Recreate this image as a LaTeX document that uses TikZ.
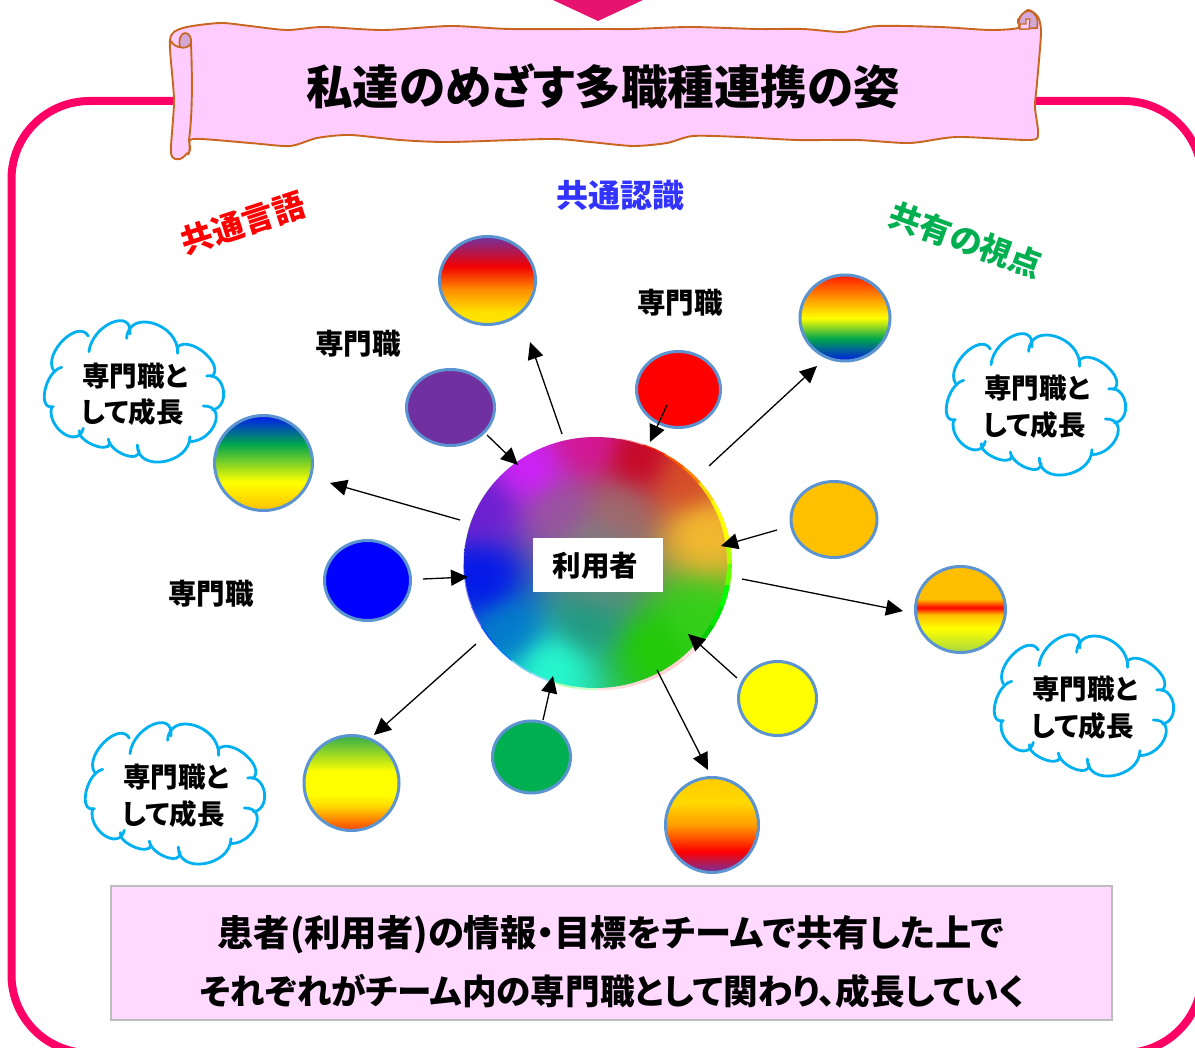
\documentclass[tikz,border=0pt]{standalone}
\usepackage{fontspec}
\setmainfont{Noto Sans CJK JP}[BoldFont={Noto Sans CJK JP Black},RawFeature={+palt}]
\usetikzlibrary{shapes.geometric,arrows.meta}
\definecolor{framepink}{HTML}{FF0066}
\definecolor{tippink}{HTML}{E6146E}
\definecolor{scrollfill}{HTML}{FFCCFF}
\definecolor{scrollline}{HTML}{C8651E}
\definecolor{rollin}{HTML}{D2A8D8}
\definecolor{boxfill}{HTML}{FFD9FF}
\definecolor{boxline}{HTML}{BDBDBD}
\definecolor{cloudblue}{HTML}{00B0F0}
\definecolor{ringblue}{HTML}{5B94D0}
\definecolor{cpurple}{HTML}{7030A0}
\definecolor{corange}{HTML}{FFC000}
\definecolor{cgreen}{HTML}{00B050}
\definecolor{cyellow}{HTML}{FFFF00}
\definecolor{labelblue}{HTML}{3333FF}
% stops are given from 25bp (bottom of shape) to 75bp (top of shape)
\pgfdeclareverticalshading{gradpurple}{100bp}{rgb(0bp)=(1,.9,0);rgb(25bp)=(1,.9,0);rgb(32bp)=(1,.88,0);rgb(45bp)=(1,.55,0);rgb(58bp)=(.95,0,0);rgb(75bp)=(.44,.19,.63);rgb(100bp)=(.44,.19,.63)}
\pgfdeclareverticalshading{gradrainbow}{100bp}{rgb(0bp)=(0,.1,.9);rgb(25bp)=(0,.1,.9);rgb(38bp)=(0,.65,.3);rgb(50bp)=(1,1,0);rgb(75bp)=(1,.1,0);rgb(100bp)=(1,.1,0)}
\pgfdeclareverticalshading{gradband}{100bp}{rgb(0bp)=(.65,.84,.25);rgb(25bp)=(.65,.84,.25);rgb(39bp)=(1,1,0);rgb(47bp)=(1,.75,0);rgb(51bp)=(1,0,0);rgb(56bp)=(1,.75,0);rgb(75bp)=(1,.75,0);rgb(100bp)=(1,.75,0)}
\pgfdeclareverticalshading{gradsunset}{100bp}{rgb(0bp)=(.44,.19,.63);rgb(25bp)=(.44,.19,.63);rgb(36bp)=(1,0,0);rgb(50bp)=(1,.62,0);rgb(62bp)=(1,.85,0);rgb(75bp)=(1,.8,0);rgb(100bp)=(1,.8,0)}
\pgfdeclareverticalshading{gradgreenred}{100bp}{rgb(0bp)=(1,.25,0);rgb(25bp)=(1,.25,0);rgb(38bp)=(1,.85,0);rgb(44bp)=(1,1,0);rgb(56bp)=(1,1,0);rgb(75bp)=(.2,.68,.3);rgb(100bp)=(.2,.68,.3)}
\pgfdeclareverticalshading{gradblue}{100bp}{rgb(0bp)=(1,.75,0);rgb(25bp)=(1,.75,0);rgb(40bp)=(1,1,0);rgb(60bp)=(0,.65,.3);rgb(75bp)=(0,.1,.95);rgb(100bp)=(0,.1,.95)}
% hub colour field: inverse-distance blend of colour points
\def\blob#1#2#3#4#5{5 index #1 sub dup mul 5 index #2 sub dup mul add 30 add 1 exch div dup mul dup #5 mul 3 -1 roll add exch dup #4 mul 4 -1 roll add 3 1 roll dup #3 mul 5 -1 roll add 4 1 roll 5 -1 roll add 4 1 roll }
\pgfdeclarefunctionalshading{hubfield}{\pgfpoint{0bp}{0bp}}{\pgfpoint{100bp}{100bp}}{}{
0 0 0 0
\blob{37.5}{68.5}{.82}{.12}{1}
\blob{57.9}{70.5}{.78}{0}{.12}
\blob{70.4}{56}{.97}{.74}{.18}
\blob{61}{33.5}{.12}{.8}{0}
\blob{69}{38.8}{.2}{.82}{.1}
\blob{41.7}{29.5}{.15}{1}{.82}
\blob{28.7}{46.7}{0}{.08}{.92}
\blob{50}{53.7}{.5}{.5}{.5}
\blob{28.7}{61}{.42}{.12}{.82}
\blob{54}{60.5}{.62}{.42}{.42}
\blob{43}{60.5}{.6}{.33}{.62}
\blob{33.7}{36.9}{0}{.48}{.8}
\blob{48.6}{73.4}{.84}{.08}{.6}
\blob{67.2}{66.5}{.84}{.3}{.15}
\blob{50.5}{44.8}{.38}{.55}{.5}
\blob{48.6}{38.8}{.1}{.6}{.5}
3 index div 3 1 roll 3 index div 3 1 roll 3 index div 3 1 roll 6 3 roll pop pop pop
}
\newcommand{\lobe}[6]{\draw[cloudline] (#1,#2) .. controls ({#1+4/3*(#3-(#1+#5)/2)},{#2+4/3*(#4-(#2+#6)/2)}) and ({#5+4/3*(#3-(#1+#5)/2)},{#6+4/3*(#4-(#2+#6)/2)}) .. (#5,#6);}
\newcommand{\cloudshape}{%
\lobe{70}{180}{100}{90}{175}{78}
\lobe{177}{125}{245}{38}{300}{72}
\lobe{290}{85}{370}{40}{443}{130}
\lobe{443}{110}{525}{130}{545}{200}
\lobe{530}{198}{580}{240}{548}{300}
\lobe{520}{288}{555}{340}{480}{395}
\lobe{480}{380}{400}{455}{322}{405}
\lobe{327}{420}{285}{435}{235}{387}
\lobe{240}{400}{190}{405}{148}{362}
\lobe{160}{355}{100}{370}{65}{290}
\lobe{70}{290}{45}{240}{95}{172}
}
\tikzset{
 cloudline/.style={cloudblue,line width=2.8pt,line cap=round},
 disc/.style={ellipse,draw=ringblue,line width=3pt,inner sep=0pt},
 arrowline/.style={black,line width=1.3pt,-{Triangle[length=17pt,width=16pt]}},
 jpbold/.style={font=\bfseries\fontsize{#1}{#1}\selectfont,inner sep=0pt},
 cloudtext/.style={font=\bfseries\fontsize{27.5}{27.5}\selectfont,inner sep=0pt,anchor=west},
 scrollpath/.style={draw=scrollline,line width=1.9pt,fill=scrollfill,line join=round},
}
\begin{document}
\begin{tikzpicture}[x=1pt,y=-1pt]
\path[use as bounding box] (0,0) rectangle (1195,1048);
\clip (0,0) rectangle (1195,1048);
% frame
\draw[framepink,line width=8pt,rounded corners=78pt] (11.5,1053) rectangle (1202,101);
% tip above the title
\fill[tippink] (553,0) -- (643,0) -- (598,21) -- cycle;
% scroll
\draw[scrollpath] plot[smooth cycle,tension=.45] coordinates {(170,40) (183,28) (220,23) (250,26) (287,30) (323,27) (383,30) (450,26) (510,29) (600,29) (633,29) (690,27) (757,29) (803,29) (843,32) (877,26) (940,27) (990,30) (1018,28) (1018,20) (1028,10) (1038,17) (1041,33) (1037,83) (1035,107) (1038,133) (1030,140) (957,137) (910,143) (857,140) (797,140) (740,137) (693,136) (667,143) (633,146) (590,142) (550,139) (450,142) (400,140) (350,135) (317,138) (290,146) (250,143) (193,139) (190,150) (180,159) (171,153) (174,100)};
\draw[scrollline,line width=1.9pt,fill=scrollfill] (171,41) .. controls (174,48) and (186,50) .. (191,43) .. controls (192,70) and (193,110) .. (189,140) .. controls (190,148) and (190,152) .. (188,155);
\draw[scrollline,line width=1.7pt,fill=rollin] (180,47) .. controls (178,38) and (182,33) .. (185,33) .. controls (189,33) and (192,38) .. (191,43) .. controls (189,47) and (184,49) .. (180,47) -- cycle;
\draw[scrollline,line width=1.7pt,fill=rollin] (1020,29) .. controls (1016,20) and (1022,11) .. (1029,11) .. controls (1036,12) and (1039,20) .. (1037,28) -- cycle;
\draw[scrollline,line width=1.2pt,fill=scrollfill] (1020,29) -- (1020,24) -- (1026,24) -- (1026,19) -- (1030,19) -- (1029,29) -- cycle;
\node[jpbold=46.5] (title) at (603,86) {私達のめざす多職種連携の姿};
% labels
\node[jpbold=32,text=red,rotate=18] (lang) at (243,223) {共通言語};
\node[jpbold=32,text=labelblue] (recog) at (620,195) {共通認識};
\node[jpbold=32,text=cgreen,rotate=-20] (view) at (966,240) {共有の視点};
\node[jpbold=28.5] (pro1) at (358,343.5) {専門職};
\node[jpbold=28.5] (pro2) at (680,302.5) {専門職};
\node[jpbold=28.5] (pro3) at (211,593.5) {専門職};
% hub
\foreach \a/\c in {-60/{red!18},-50/{red!12},-40/{green!80!black},-30/{green!90!black},-20/green,-10/{green!60!cyellow},0/{cyellow!70!green},10/cyellow,20/cyellow,30/{cyellow!70!orange},40/orange,50/{orange!70!red},60/{red!80!orange},70/{red!40},80/{cyan!12},90/{cyan!15},100/{cyan!20},110/{cyan!20},120/{cyan!18},130/{cyan!15},140/{green!15},150/{green!15},160/{green!15},170/{blue!20},180/{blue!40},190/{blue!50},200/{blue!60},210/{blue!70!cyan},220/{blue!50!cyan},230/{cyan!60},240/{cyan!40},250/{green!30},260/{green!20},270/{red!12},280/{red!15},290/{red!18}}{
 \fill[\c] (597.5,563.5) -- ({597.5+134.5*cos(\a)},{563.5-127*sin(\a)}) -- ({597.5+134.5*cos(\a+5)},{563.5-127*sin(\a+5)}) -- ({597.5+134.5*cos(\a+10.5)},{563.5-127*sin(\a+10.5)}) -- cycle;
}
\node[ellipse,inner sep=0pt,minimum width=263pt,minimum height=251pt,shading=hubfield] (hub) at (595.5,562.5) {};
\fill[white] (533,538) rectangle (663,592);
\node[jpbold=28.5] (user) at (595.5,566) {利用者};
% discs
\node[disc,minimum width=96pt,minimum height=88pt,shading=gradpurple] (d1) at (487.5,280.5) {};
\node[disc,minimum width=88pt,minimum height=76pt,fill=cpurple] (d2) at (450.5,407.5) {};
\node[disc,minimum width=84pt,minimum height=76pt,fill=red] (d3) at (678.5,389.5) {};
\node[disc,minimum width=90pt,minimum height=86pt,shading=gradrainbow] (d4) at (845,318) {};
\node[disc,minimum width=86pt,minimum height=76pt,fill=corange] (d5) at (834,519.5) {};
\node[disc,minimum width=90pt,minimum height=86pt,shading=gradband] (d6) at (960.5,609.5) {};
\node[disc,minimum width=78pt,minimum height=74pt,fill=cyellow] (d7) at (777.5,698.5) {};
\node[disc,minimum width=93pt,minimum height=95pt,shading=gradsunset] (d8) at (712,825) {};
\node[disc,minimum width=78pt,minimum height=72pt,fill=cgreen] (d9) at (531.5,757) {};
\node[disc,minimum width=95pt,minimum height=95pt,shading=gradgreenred] (d10) at (351.5,783) {};
\node[disc,minimum width=86pt,minimum height=80pt,fill=blue] (d11) at (367.5,580.5) {};
\node[disc,minimum width=98pt,minimum height=95pt,shading=gradblue] (d12) at (263.5,463) {};
% connector ends
\coordinate (a1s) at (562,434); \coordinate (a1e) at (530,342);
\coordinate (a2s) at (487,435); \coordinate (a2e) at (518,465);
\coordinate (a3s) at (667,405); \coordinate (a3e) at (650,442);
\coordinate (a4s) at (709,466); \coordinate (a4e) at (817,366);
\coordinate (a5s) at (777,530); \coordinate (a5e) at (721,546);
\coordinate (a6s) at (742,579); \coordinate (a6e) at (903,611);
\coordinate (a7s) at (737,678); \coordinate (a7e) at (688,634);
\coordinate (a8s) at (657,670); \coordinate (a8e) at (708,770);
\coordinate (a9s) at (543,720); \coordinate (a9e) at (553,676);
\coordinate (a10s) at (476,644); \coordinate (a10e) at (374,735);
\coordinate (a11s) at (423,579); \coordinate (a11e) at (468,577);
\coordinate (a12s) at (460,520); \coordinate (a12e) at (330,483);
\foreach \n in {1,...,12}{\draw[arrowline] (a\n s) -- (a\n e);}
% clouds
\begin{scope}[shift={(30,310)},x=.3333pt,y=-.3333pt]\cloudshape\end{scope}
\begin{scope}[shift={(932,323)},x=.3333pt,y=-.3333pt]\cloudshape\end{scope}
\begin{scope}[shift={(980,624)},x=.3333pt,y=-.3333pt]\cloudshape\end{scope}
\begin{scope}[shift={(71,712)},x=.3333pt,y=-.3333pt]\cloudshape\end{scope}
\node[cloudtext] (c1a) at (82,376) {専門職と};
\node[cloudtext] (c1b) at (81,412) {して成長};
\node[cloudtext] (c2a) at (984,388) {専門職と};
\node[cloudtext] (c2b) at (983,425) {して成長};
\node[cloudtext] (c3a) at (1032,689) {専門職と};
\node[cloudtext] (c3b) at (1031,726) {して成長};
\node[cloudtext] (c4a) at (123,777) {専門職と};
\node[cloudtext] (c4b) at (122,814) {して成長};
% bottom box
\draw[draw=boxline,fill=boxfill,line width=2pt] (111,886) rectangle (1112,1020);
\node[jpbold=36.3] (msg1) at (611,935) {患者(利用者)の情報・目標をチームで共有した上で};
\node[jpbold=34.6] (msg2) at (612,991) {それぞれがチーム内の専門職として関わり、成長していく};
\end{tikzpicture}
\end{document}
